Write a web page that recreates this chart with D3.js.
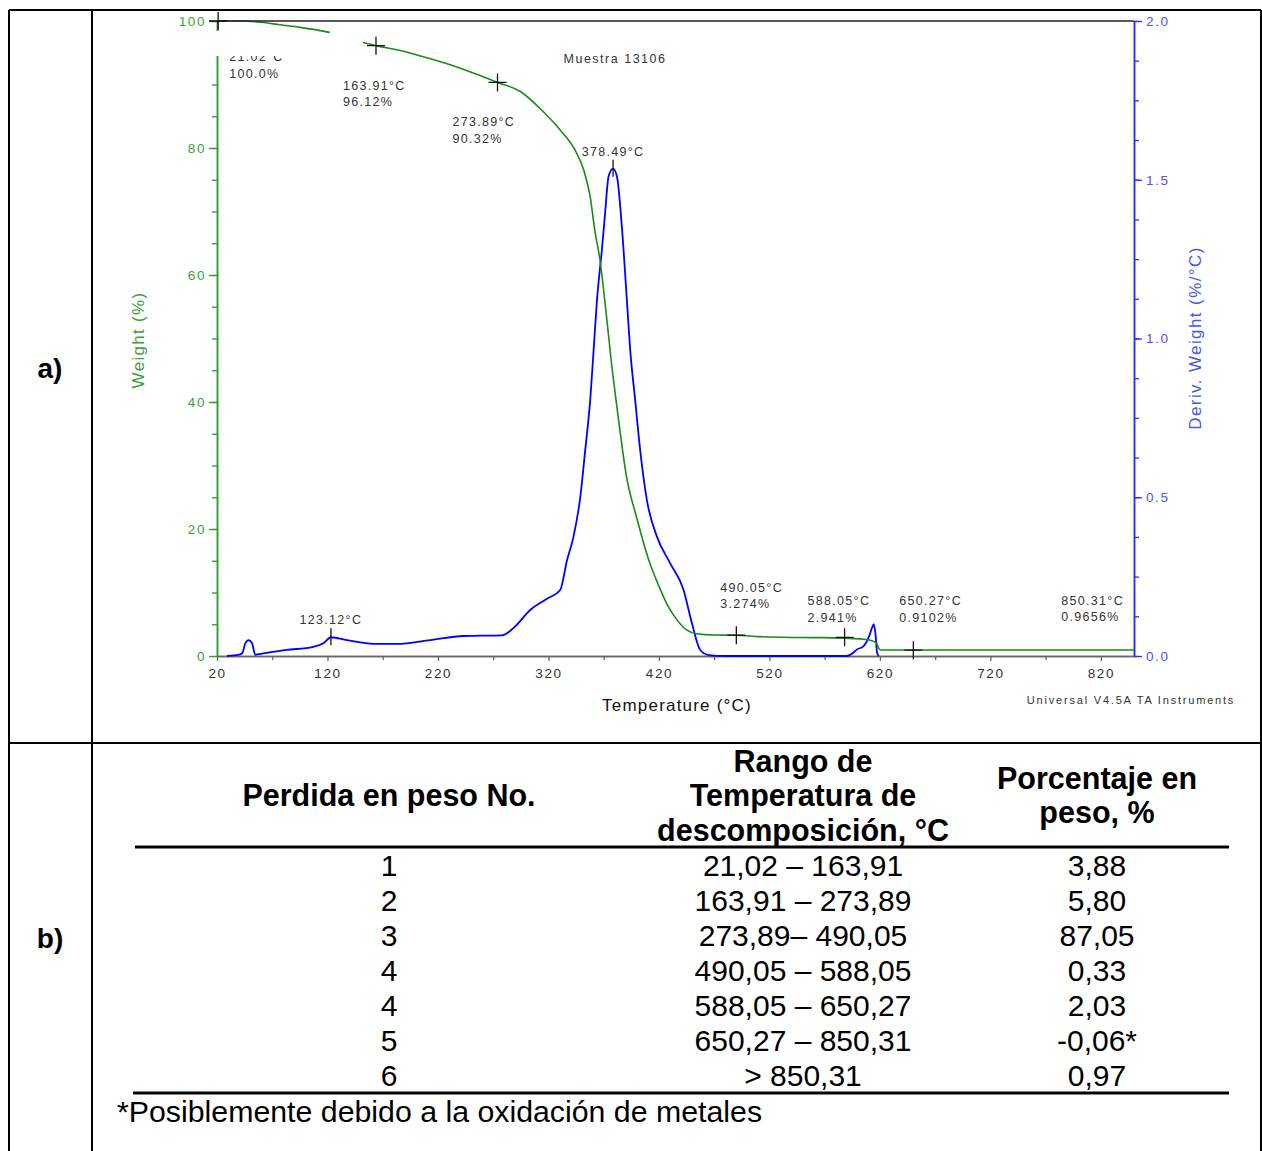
<!DOCTYPE html>
<html>
<head>
<meta charset="utf-8">
<script src="https://cdn.jsdelivr.net/npm/d3@7"></script>
<style>
  body { margin: 0; background: #fff; }
  svg { display: block; font-family: "Liberation Sans", Arial, sans-serif; }
</style>
</head>
<body>
<div id="chart"></div>
<script>
const width = 1262,
      height = 1151;

// weight curve (TGA), null = gap in the recorded trace
const weightTemp = [21.02, 40, 60, 77, 95, 110, 122, 137, 152, 163.91, 185, 204, 231, 255, 273.89,
  294.6, 315.4, 330.8, 344, 352, 357.6, 362, 366.6, 372.6, 377.1, 383.1, 390.7, 399.7, 411.8,
  420, 426.9, 435, 445, 454, 470, 490.05, 511, 530, 560, 588.05, 605, 612, 617, 619, 621,
  650.27, 700, 800, 850];
const weightPct = [100, 100, 99.8, 99.4, 99.0, 98.6, 98.2, null, 96.6, 96.12, 95.4, 94.5, 93.1, 91.6, 90.32,
  88.9, 85.7, 82.8, 79.7, 76.5, 72.5, 67, 62.4, 53.4, 46.1, 37.7, 28.2, 21.9, 14.6,
  11, 8.3, 6.0, 4.1, 3.5, 3.3, 3.274, 3.05, 2.95, 2.9, 2.8, 2.65, 2.45, 2.0, 1.2, 0.95,
  0.94, 0.94, 0.94, 0.94];

// derivative curve
const derivTemp = [29, 40, 43, 45.6, 48.6, 51.7, 54.7, 62, 83, 107, 117, 123.12, 137.6, 161.7, 183,
  213, 243, 278, 288, 303.5, 318.6, 330.7, 336.7, 342.7, 348.8, 353.3, 357.8, 360.9, 363.9,
  368.4, 371.4, 374.4, 378.49, 382, 386.5, 391, 394, 398.5, 403, 409.1, 418.2, 430.2, 442.3,
  449.9, 457.4, 465, 480, 590, 596, 599, 605, 610, 613, 614.5, 616, 617.5, 619];
const derivVal = [0, 0.004, 0.01, 0.04, 0.05, 0.04, 0.004, 0.008, 0.019, 0.029, 0.042, 0.059, 0.05, 0.038, 0.038,
  0.05, 0.063, 0.065, 0.087, 0.145, 0.18, 0.208, 0.30, 0.376, 0.50, 0.649, 0.806, 0.964, 1.12,
  1.28, 1.40, 1.51, 1.535, 1.51, 1.35, 1.12, 0.964, 0.806, 0.649, 0.491, 0.376, 0.292, 0.208,
  0.103, 0.019, 0.003, 0, 0, 0.01, 0.02, 0.03, 0.06, 0.09, 0.1, 0.07, 0.01, 0];

// step annotations
const stepTemp = [21.02, 163.91, 273.89, 490.05, 588.05, 650.27, 850.31];
const stepPct = [100.0, 96.12, 90.32, 3.274, 2.941, 0.9102, 0.9656];
const stepTempLabel = ["21.02°C", "163.91°C", "273.89°C", "490.05°C", "588.05°C", "650.27°C", "850.31°C"];
const stepPctLabel = ["100.0%", "96.12%", "90.32%", "3.274%", "2.941%", "0.9102%", "0.9656%"];

// derivative peaks
const peakTemp = [123.12, 378.49];
const peakVal = [0.059, 1.535];
const peakLabel = ["123.12°C", "378.49°C"];

// table b)
const headCol1 = ["Perdida en peso No."];
const headCol2 = ["Rango de", "Temperatura de", "descomposición, °C"];
const headCol3 = ["Porcentaje en", "peso, %"];
const lossNo = ["1", "2", "3", "4", "4", "5", "6"];
const tempRange = ["21,02 – 163,91", "163,91 – 273,89", "273,89– 490,05", "490,05 – 588,05",
  "588,05 – 650,27", "650,27 – 850,31", "> 850,31"];
const lossPct = ["3,88", "5,80", "87,05", "0,33", "2,03", "-0,06*", "0,97"];
const footnote = "*Posiblemente debido a la oxidación de metales";

// label placement (px offsets from the marked point)
const stepOffset = [[11, 40], [-33, 44], [-45, 44], [-16, -43.5], [-37, -32], [-14, -45], [-73, -45]];

const green = "#1a8a1a", greenAxis = "#2e9a2e", greenText = "#3aa03a";
const blue = "#0000ff", blueAxis = "#2b2bff", blueText = "#4a55ee";

const svg = d3.select("#chart").append("svg")
  .attr("width", width)
  .attr("height", height);

svg.append("rect").attr("width", width).attr("height", height).attr("fill", "#fff");

const x = d3.scaleLinear().domain([20, 850]).range([217, 1134]);
const yW = d3.scaleLinear().domain([0, 100]).range([656, 21]);
const yD = d3.scaleLinear().domain([0, 2]).range([656, 21]);

function styleAxis(g, lineColor, textColor) {
  g.attr("font-family", null).attr("font-size", null);
  g.select(".domain").attr("stroke", lineColor).attr("stroke-width", 1.5);
  g.selectAll(".tick line").attr("stroke", lineColor).attr("stroke-width", 1.3);
  g.selectAll(".tick text").attr("fill", textColor)
    .style("font-size", "13.5px").style("letter-spacing", "1.6px");
}

// bottom axis
svg.append("g").attr("transform", "translate(0,656)")
  .call(d3.axisBottom(x).tickValues(d3.range(70, 850, 100)).tickSize(4).tickSizeOuter(0).tickFormat(""))
  .call(g => styleAxis(g, "#666", "#333"));
svg.append("g").attr("transform", "translate(0,656)")
  .call(d3.axisBottom(x).tickValues(d3.range(20, 821, 100)).tickSize(5).tickSizeOuter(0).tickPadding(7))
  .call(g => styleAxis(g, "#666", "#333"));

// left axis
svg.append("g").attr("transform", "translate(217,0)")
  .call(d3.axisLeft(yW).tickValues(d3.range(0, 101, 5)).tickSize(5).tickSizeOuter(0).tickFormat(""))
  .call(g => styleAxis(g, greenAxis, greenText));
svg.append("g").attr("transform", "translate(217,0)")
  .call(d3.axisLeft(yW).tickValues(d3.range(0, 101, 20)).tickSize(8).tickSizeOuter(0).tickPadding(3))
  .call(g => styleAxis(g, greenAxis, greenText));

// right axis
svg.append("g").attr("transform", "translate(1134,0)")
  .call(d3.axisRight(yD).tickValues(d3.range(0, 2.01, 0.125)).tickSize(5).tickSizeOuter(0).tickFormat(""))
  .call(g => styleAxis(g, blueAxis, blueText));
svg.append("g").attr("transform", "translate(1134,0)")
  .call(d3.axisRight(yD).tickValues([0, 0.5, 1, 1.5, 2]).tickSize(8).tickSizeOuter(0).tickPadding(4).tickFormat(d3.format(".1f")))
  .call(g => styleAxis(g, blueAxis, blueText));

// curves
const derivData = derivTemp.map((t, i) => ({ t, v: derivVal[i] }));
const weightData = weightTemp.map((t, i) => ({ t, v: weightPct[i] }));

svg.append("path")
  .datum(derivData)
  .attr("fill", "none").attr("stroke", blue).attr("stroke-width", 1.8)
  .attr("d", d3.line().curve(d3.curveMonotoneX).x(d => x(d.t)).y(d => yD(d.v)));

svg.append("path")
  .datum(weightData)
  .attr("fill", "none").attr("stroke", green).attr("stroke-width", 1.6)
  .attr("d", d3.line().curve(d3.curveMonotoneX).defined(d => d.v != null).x(d => x(d.t)).y(d => yW(d.v)));

// top frame line of plot
svg.append("line")
  .attr("x1", x(20)).attr("x2", x(850)).attr("y1", yW(100)).attr("y2", yW(100))
  .attr("stroke", "#222").attr("stroke-width", 1.3);

// step labels
const ann = svg.append("g")
  .style("font-size", "12.5px").style("letter-spacing", "1.3px").attr("fill", "#333");

stepTemp.forEach((t, i) => {
  const px = x(t), py = yW(stepPct[i]);
  const [dx, dy] = stepOffset[i];
  const txt = ann.append("text").attr("x", px + dx).attr("y", py + dy);
  txt.append("tspan").attr("x", px + dx).text(stepTempLabel[i]);
  txt.append("tspan").attr("x", px + dx).attr("dy", 16.5).text(stepPctLabel[i]);
  if (i < stepTemp.length - 1) {
    ann.append("path")
      .attr("d", `M${px - 9},${py}H${px + 9}M${px},${py - 9}V${py + 9}`)
      .attr("stroke", "#111").attr("stroke-width", 1.3);
  }
});

// white box hiding the top of the first label (as in the instrument export)
svg.append("rect")
  .attr("x", 212).attr("y", 31).attr("width", 90).attr("height", 25)
  .attr("fill", "#fff");

// peak labels
peakTemp.forEach((t, i) => {
  const px = x(t), py = yD(peakVal[i]);
  ann.append("line")
    .attr("x1", px).attr("x2", px).attr("y1", py - 9).attr("y2", py + 8)
    .attr("stroke", "#111").attr("stroke-width", 1.3);
  ann.append("text")
    .attr("x", px).attr("y", py - 13)
    .attr("text-anchor", "middle")
    .text(peakLabel[i]);
});

ann.append("text")
  .attr("x", 615).attr("y", 63)
  .attr("text-anchor", "middle")
  .style("letter-spacing", "1.5px")
  .text("Muestra 13106");

// axis titles
svg.append("text")
  .attr("transform", "translate(144,340) rotate(-90)")
  .attr("text-anchor", "middle")
  .attr("fill", greenText)
  .style("font-size", "17px").style("letter-spacing", "1.3px")
  .text("Weight (%)");

svg.append("text")
  .attr("transform", "translate(1201,338) rotate(-90)")
  .attr("text-anchor", "middle")
  .attr("fill", blueText)
  .style("font-size", "17px").style("letter-spacing", "1.4px")
  .text("Deriv. Weight (%/°C)");

svg.append("text")
  .attr("x", 677).attr("y", 711)
  .attr("text-anchor", "middle")
  .attr("fill", "#111")
  .style("font-size", "17px").style("letter-spacing", "1.2px")
  .text("Temperature (°C)");

svg.append("text")
  .attr("x", 1131).attr("y", 704)
  .attr("text-anchor", "middle")
  .attr("fill", "#333")
  .style("font-size", "11px").style("letter-spacing", "1.8px")
  .text("Universal V4.5A TA Instruments");

// outer frame
const frame = svg.append("g").attr("stroke", "#000").attr("stroke-width", 2);
[[9, 10, 1261, 10], [9, 743, 1261, 743], [9, 10, 9, 1151], [92, 10, 92, 1151], [1261, 10, 1261, 1151]]
  .forEach(([x1, y1, x2, y2]) => frame.append("line").attr("x1", x1).attr("y1", y1).attr("x2", x2).attr("y2", y2));

svg.append("text").attr("x", 50).attr("y", 378).attr("text-anchor", "middle")
  .style("font-size", "28px").style("font-weight", "bold").text("a)");
svg.append("text").attr("x", 50).attr("y", 948).attr("text-anchor", "middle")
  .style("font-size", "28px").style("font-weight", "bold").text("b)");

// table
const colX = [389, 803, 1097];
const headLH = 34.5, headMid = 796;
[headCol1, headCol2, headCol3].forEach((lines, c) => {
  lines.forEach((s, k) => {
    svg.append("text")
      .attr("x", colX[c])
      .attr("y", headMid + (k - (lines.length - 1) / 2) * headLH + 10)
      .attr("text-anchor", "middle")
      .style("font-size", "30.5px").style("font-weight", "bold")
      .text(s);
  });
});

svg.append("line").attr("x1", 135).attr("x2", 1229).attr("y1", 847).attr("y2", 847)
  .attr("stroke", "#000").attr("stroke-width", 3);
svg.append("line").attr("x1", 133).attr("x2", 1229).attr("y1", 1093).attr("y2", 1093)
  .attr("stroke", "#000").attr("stroke-width", 3);

const rowY = d3.scalePoint().domain(d3.range(lossNo.length)).range([876, 1086]);
[lossNo, tempRange, lossPct].forEach((col, c) => {
  svg.append("g").selectAll("text")
    .data(col)
    .join("text")
    .attr("x", colX[c])
    .attr("y", (d, i) => rowY(i))
    .attr("text-anchor", "middle")
    .style("font-size", "30px")
    .text(d => d);
});

svg.append("text")
  .attr("x", 117).attr("y", 1122)
  .style("font-size", "30.3px")
  .text(footnote);
</script>
</body>
</html>
